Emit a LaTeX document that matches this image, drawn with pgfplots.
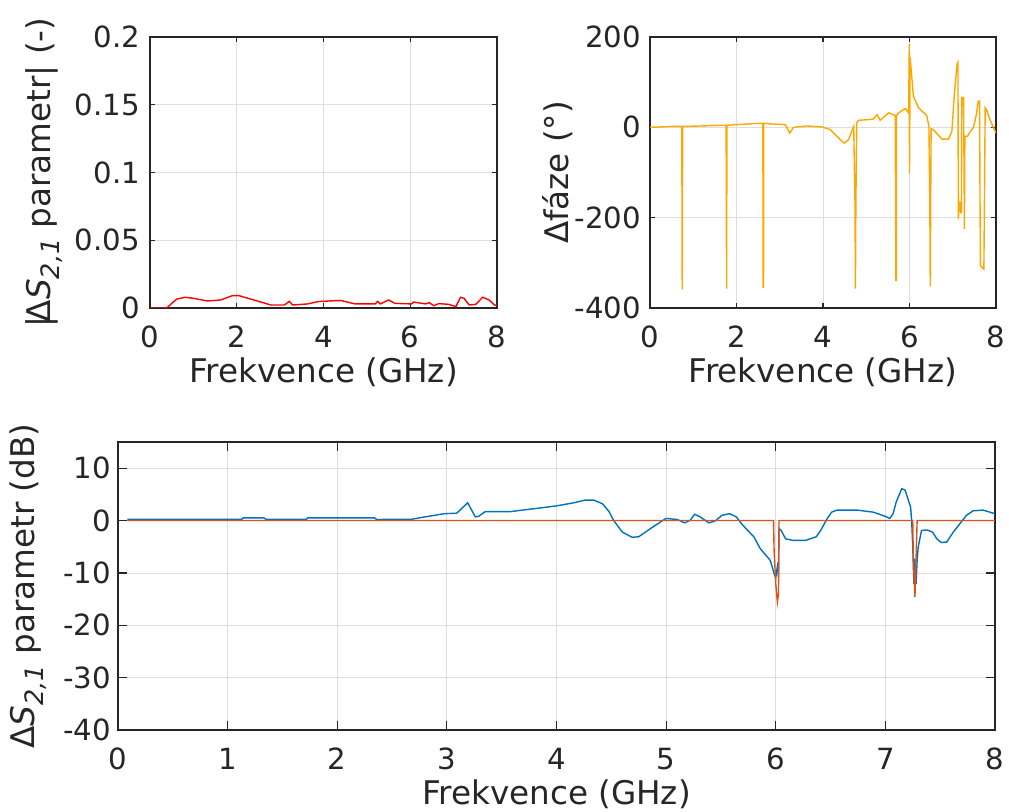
\documentclass[border=0pt]{standalone}
\usepackage{fontspec}
\setmainfont{DejaVu Sans}
\usepackage{pgfplots}
\pgfplotsset{compat=1.18}

\definecolor{axgray}{RGB}{38,38,38}
\definecolor{gridgray}{RGB}{222,222,222}
\definecolor{mblue}{rgb}{0,0.447,0.741}
\definecolor{morange}{rgb}{0.85,0.325,0.098}
\definecolor{phaseor}{rgb}{1,0.65,0}

\newcommand\ticksize{\fontsize{14.6}{17}\selectfont}
\newcommand\labelsize{\fontsize{16.3}{19}\selectfont}
\newcommand\sub[1]{\raisebox{-0.5ex}{\fontsize{12.7}{14}\selectfont\itshape #1}}

\pgfplotsset{
  mstyle/.style={
    scale only axis,
    xmin=0, xmax=8,
    axis line style={draw=axgray, line width=0.6pt},
    grid=major,
    major grid style={draw=gridgray, line width=0.4pt},
    tick align=inside,
    tick style={draw=axgray, line width=0.6pt},
    ticklabel style={font=\ticksize, text=axgray},
    label style={font=\labelsize, text=axgray},
    xticklabel style={yshift=-5.5pt},
    xlabel={Frekvence (GHz)},
    xlabel style={at={(rel axis cs:0.5,0)}, anchor=center, yshift=-32pt},
  },
}

\begin{document}
\begin{tikzpicture}
\useasboundingbox (0,0) rectangle (504.5pt,406pt);

% |dS21| magnitude
\begin{axis}[mstyle,
  at={(75pt,252pt)}, anchor=south west,
  width=173.5pt, height=135.5pt,
  major tick length=2.5pt,
  xtick={0,2,4,6,8}, xticklabels={0,2,4,6,8},
  ymin=0, ymax=0.2,
  ytick={0,0.05,0.1,0.15,0.2}, yticklabels={0,0.05,0.1,0.15,0.2},
  yticklabel style={xshift=-1.5pt},
  ylabel={|$\!$Δ\textit{S}\sub{2,1} parametr| (-)},
  ylabel style={at={(rel axis cs:-0.305,0.5)}, anchor=center},
]
\addplot[red, line width=0.7pt] coordinates {
  (0,0) (0.39,0) (0.5,0.0034) (0.62,0.0066) (0.81,0.0079) (1.01,0.0071)
  (1.32,0.0052) (1.63,0.0059) (1.9,0.0091) (2.05,0.0091) (2.32,0.0066)
  (2.79,0.0022) (3.1,0.0022) (3.21,0.0049) (3.29,0.0022) (3.64,0.003)
  (3.87,0.0047) (4.26,0.0054) (4.42,0.0054) (4.73,0.003) (5.19,0.003)
  (5.25,0.0049) (5.31,0.003) (5.5,0.0059) (5.65,0.0034) (6.03,0.003)
  (6.08,0.0044) (6.35,0.003) (6.44,0.0039) (6.54,0.0017) (6.66,0.0032)
  (6.89,0.0027) (7.05,0.001) (7.16,0.0079) (7.24,0.0071) (7.36,0.0022)
  (7.51,0.0027) (7.67,0.0079) (7.82,0.0059) (7.94,0.0022) (8.0,0.002)
};
\end{axis}

% phase difference
\begin{axis}[mstyle,
  at={(325pt,252pt)}, anchor=south west,
  width=173pt, height=135.5pt,
  major tick length=2.5pt,
  xtick={0,2,4,6,8}, xticklabels={0,2,4,6,8},
  ymin=-400, ymax=200,
  ytick={-400,-200,0,200}, yticklabels={-400,-200,0,200},
  yticklabel style={xshift=-1pt},
  ylabel={Δfáze (°)},
  ylabel style={at={(rel axis cs:-0.266,0.5)}, anchor=center},
]
\addplot[phaseor, line width=0.7pt] coordinates {
  (0,0) (0.55,2) (0.735,2) (0.74,-177) (0.745,-359) (0.75,-177) (0.755,2)
  (1.2,3) (1.63,4.5) (1.76,4.5) (1.765,-173) (1.77,-357) (1.775,-173) (1.78,4.5)
  (2.02,6) (2.55,9) (2.61,9) (2.615,-354) (2.625,-354) (2.63,9)
  (2.82,7.5) (3.13,6) (3.23,-12.7) (3.32,0) (3.63,3) (3.98,0.7) (4.17,-5)
  (4.32,-20) (4.49,-35) (4.59,-27.6) (4.71,2) (4.74,-169) (4.75,-357)
  (4.76,-169) (4.78,10) (4.82,15.6) (5.05,17) (5.17,18.6) (5.25,28)
  (5.32,15.6) (5.52,32) (5.67,26) (5.685,-339) (5.695,-339) (5.7,26)
  (5.75,32) (5.9,41.7) (5.98,32) (5.995,185) (6.0,-102) (6.015,155)
  (6.09,69) (6.21,43) (6.4,26) (6.45,2) (6.47,-169) (6.48,-352) (6.49,-169)
  (6.5,-3) (6.55,-5) (6.75,-26) (6.9,-26) (6.98,-9) (7.04,77) (7.1,140)
  (7.12,144) (7.13,-203) (7.15,-170) (7.17,-180) (7.18,-165) (7.2,-190)
  (7.21,66) (7.25,66) (7.27,-225) (7.28,-20) (7.34,-20) (7.4,-10) (7.48,0)
  (7.55,30) (7.59,58) (7.62,58) (7.63,-147) (7.64,-307) (7.72,-314)
  (7.75,43) (7.78,39) (7.86,17) (8.0,-12.7)
};
\end{axis}

% dS21 in dB
\begin{axis}[mstyle,
  at={(59pt,41pt)}, anchor=south west,
  width=438.5pt, height=144pt,
  major tick length=4.5pt,
  xtick={0,1,...,8}, xticklabels={0,1,2,3,4,5,6,7,8},
  ymin=-40, ymax=15,
  ytick={-40,-30,...,10}, yticklabels={-40,-30,-20,-10,0,10},
  ylabel={Δ\textit{S}\sub{2,1} parametr (dB)},
  ylabel style={at={(rel axis cs:-0.1026,0.5)}, anchor=center},
]
\addplot[mblue, line width=0.7pt] coordinates {
  (0.085,0.25) (1.13,0.25) (1.14,0.5) (1.33,0.5) (1.35,0.25) (1.72,0.25)
  (1.73,0.5) (2.34,0.5) (2.36,0.2) (2.68,0.25) (2.8,0.7) (2.89,1.0)
  (2.97,1.3) (3.09,1.4) (3.15,2.6) (3.19,3.4) (3.21,2.6) (3.26,0.7)
  (3.29,0.8) (3.35,1.7) (3.58,1.7) (3.73,2.1) (3.85,2.4) (4.0,2.8)
  (4.16,3.4) (4.26,3.9) (4.34,3.9) (4.42,3.2) (4.48,1.7) (4.52,0.06)
  (4.6,-2.2) (4.69,-3.2) (4.75,-3.1) (4.86,-1.5) (4.95,-0.25) (5.0,0.4)
  (5.1,0.2) (5.17,-0.45) (5.22,0.06) (5.26,1.2) (5.31,0.7) (5.39,-0.45)
  (5.45,-0.06) (5.51,1.0) (5.58,1.3) (5.64,0.7) (5.7,-0.9) (5.8,-3.1)
  (5.86,-5.4) (5.95,-7.6) (5.985,-10.1) (6.0,-11) (6.02,-8) (6.025,-10.8)
  (6.03,-1.5) (6.05,-1.9) (6.09,-3.5) (6.16,-3.8) (6.27,-3.8) (6.37,-3.1)
  (6.41,-1.9) (6.47,0.4) (6.51,1.6) (6.56,2.0) (6.74,2.0) (6.89,1.6)
  (7.0,0.8) (7.04,0.4) (7.07,1.3) (7.1,3.6) (7.15,6.1) (7.18,5.8)
  (7.23,2.6) (7.24,0) (7.25,-5) (7.26,-12.1) (7.27,-7.3) (7.28,-12.1)
  (7.29,-7.6) (7.3,-5) (7.33,-1.9) (7.38,-1.8) (7.43,-2.2) (7.47,-3.5)
  (7.51,-4.2) (7.56,-4.1) (7.62,-2.2) (7.68,-0.6) (7.74,1.0) (7.8,1.85)
  (7.89,2.0) (8.0,1.3)
};
\addplot[morange, line width=0.7pt] coordinates {
  (0.085,0) (5.98,0) (5.985,-5.7) (6.0,-12) (6.015,-15.6) (6.025,-14)
  (6.03,0) (7.25,0) (7.255,-7.3) (7.27,-14.6) (7.28,-7.3) (7.29,0) (8,0)
};
\end{axis}
\end{tikzpicture}
\end{document}
